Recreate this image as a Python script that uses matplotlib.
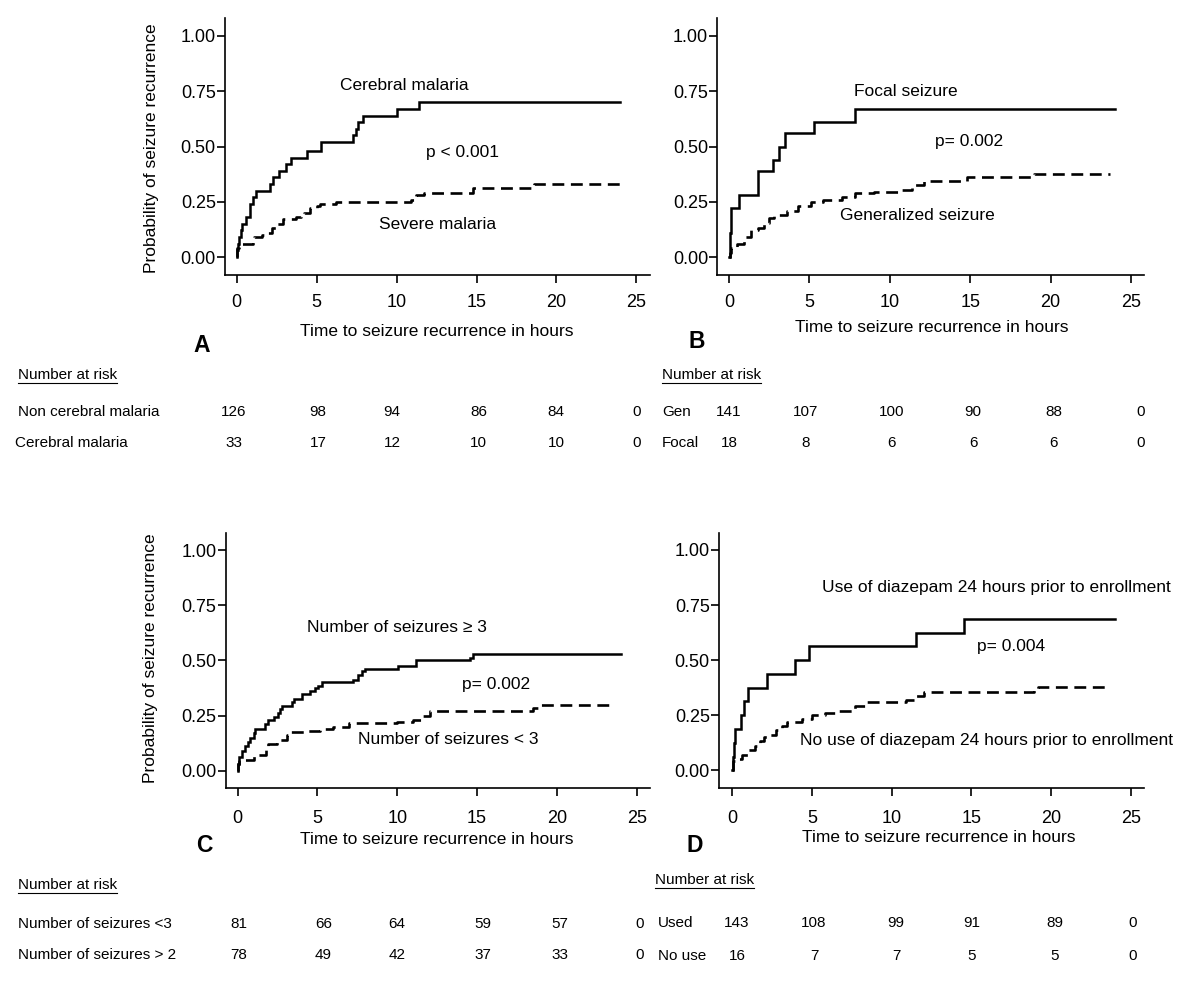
import matplotlib
matplotlib.use("Agg")
import matplotlib.pyplot as plt
from matplotlib.lines import Line2D

plt.rcParams['font.family'] = ['Liberation Sans', 'DejaVu Sans']

W, H = 1200, 985

# ---------------- data ----------------
# Panel A
a_solid_t = [0, 0.04, 0.1, 0.17, 0.25, 0.35, 0.6, 0.83, 0.85, 1.04, 1.2, 2.08, 2.25, 2.67,
             3.1, 3.4, 4.4, 5.3, 7.3, 7.45, 7.6, 7.9, 10.04, 11.4, 24.0]
a_solid_p = [0, 0.03, 0.06, 0.09, 0.12, 0.15, 0.18, 0.21, 0.24, 0.27, 0.30, 0.33, 0.36, 0.39,
             0.42, 0.45, 0.48, 0.52, 0.55, 0.58, 0.61, 0.64, 0.67, 0.70, 0.70]
a_dash_t = [0, 0.05, 0.12, 1.0, 1.1, 1.6, 1.9, 2.2, 2.5, 2.9, 3.7, 4.0, 4.2, 4.6, 5.0, 5.2,
            6.2, 10.9, 11.2, 11.7, 14.8, 18.6, 24.0]
a_dash_p = [0, 0.04, 0.06, 0.08, 0.09, 0.10, 0.11, 0.13, 0.15, 0.17, 0.18, 0.19, 0.20, 0.22,
            0.23, 0.24, 0.25, 0.26, 0.28, 0.29, 0.31, 0.33, 0.33]

# Panel B
b_solid_t = [0, 0.05, 0.08, 0.1, 0.12, 0.65, 1.83, 2.72, 3.1, 3.5, 5.3, 7.86, 24.0]
b_solid_p = [0, 0.06, 0.11, 0.17, 0.22, 0.28, 0.39, 0.44, 0.50, 0.56, 0.61, 0.67, 0.67]
b_dash_t = [0, 0.05, 0.1, 0.5, 0.94, 1.4, 1.8, 2.2, 2.5, 2.8, 3.6, 4.3, 5.1, 5.85, 7.0, 7.86,
            9.0, 10.5, 11.4, 12.1, 14.8, 19.0, 23.7]
b_dash_p = [0, 0.02, 0.04, 0.06, 0.09, 0.12, 0.13, 0.155, 0.175, 0.19, 0.21, 0.23, 0.25, 0.26,
            0.27, 0.29, 0.295, 0.305, 0.325, 0.345, 0.36, 0.375, 0.375]

# Panel C
c_solid_t = [0, 0.05, 0.1, 0.25, 0.46, 0.67, 0.8, 1.0, 1.1, 1.7, 1.9, 2.3, 2.55, 2.65, 2.8,
             3.4, 3.5, 4.0, 4.5, 4.85, 5.05, 5.26, 7.25, 7.55, 7.77, 8.0, 10.02, 11.17, 14.55,
             14.76, 24.0]
c_solid_p = [0, 0.03, 0.06, 0.09, 0.11, 0.13, 0.15, 0.17, 0.19, 0.21, 0.23, 0.245, 0.26, 0.28,
             0.295, 0.31, 0.325, 0.347, 0.362, 0.373, 0.385, 0.40, 0.41, 0.433, 0.45, 0.461,
             0.476, 0.50, 0.51, 0.527, 0.527]
c_dash_t = [0, 0.05, 0.1, 1.0, 1.8, 1.9, 2.45, 3.07, 3.17, 4.3, 5.15, 6.0, 7.0, 9.96, 11.0,
            11.5, 12.04, 18.5, 18.9, 23.6]
c_dash_p = [0, 0.03, 0.05, 0.07, 0.095, 0.12, 0.14, 0.16, 0.175, 0.18, 0.19, 0.20, 0.215, 0.22,
            0.23, 0.25, 0.27, 0.285, 0.297, 0.297]

# Panel D
d_solid_t = [0, 0.05, 0.1, 0.2, 0.52, 0.75, 0.97, 2.2, 3.94, 4.8, 11.55, 14.55, 24.0]
d_solid_p = [0, 0.06, 0.125, 0.1875, 0.25, 0.3125, 0.375, 0.4375, 0.5, 0.5625, 0.625, 0.6875,
             0.6875]
d_dash_t = [0, 0.05, 0.2, 0.63, 0.97, 1.4, 1.75, 2.0, 2.3, 2.77, 3.1, 3.45, 4.35, 5.0, 5.8,
            6.6, 7.7, 8.4, 10.9, 11.55, 12.0, 18.9, 19.2, 23.7]
d_dash_p = [0, 0.04, 0.05, 0.07, 0.09, 0.11, 0.13, 0.15, 0.16, 0.18, 0.20, 0.22, 0.23, 0.25,
            0.26, 0.27, 0.29, 0.31, 0.32, 0.335, 0.355, 0.37, 0.378, 0.378]

x_ticks = [0, 5, 10, 15, 20, 25]
y_ticks = [0.0, 0.25, 0.5, 0.75, 1.0]
y_ticklabels = ["0.00", "0.25", "0.50", "0.75", "1.00"]

# Number-at-risk tables
a_rows = ["Non cerebral malaria", "Cerebral malaria"]
a_risk = [[126, 98, 94, 86, 84, 0], [33, 17, 12, 10, 10, 0]]
b_rows = ["Gen", "Focal"]
b_risk = [[141, 107, 100, 90, 88, 0], [18, 8, 6, 6, 6, 0]]
c_rows = ["Number of seizures <3", "Number of seizures > 2"]
c_risk = [[81, 66, 64, 59, 57, 0], [78, 49, 42, 37, 33, 0]]
d_rows = ["Used", "No use"]
d_risk = [[143, 108, 99, 91, 89, 0], [16, 7, 7, 5, 5, 0]]

# ---------------- figure ----------------
fig = plt.figure(figsize=(W / 100, H / 100), dpi=100)


def P(x, y):
    return x / W, 1 - y / H


FS = 12.5
TKS = 13
TFS = 11


def make_axes(left, top, right, bottom, xlim, ylim, xpad):
    ax = fig.add_axes([left / W, 1 - bottom / H, (right - left) / W, (bottom - top) / H])
    ax.set_xlim(*xlim)
    ax.set_ylim(*ylim)
    for s in ("top", "right"):
        ax.spines[s].set_visible(False)
    for s in ("left", "bottom"):
        ax.spines[s].set_linewidth(1.2)
    ax.set_xticks(x_ticks)
    ax.set_yticks(y_ticks)
    ax.set_yticklabels(y_ticklabels)
    ax.tick_params(axis="both", direction="out", length=5.8, width=1.2, labelsize=TKS)
    ax.tick_params(axis="y", pad=0.8)
    ax.tick_params(axis="x", pad=xpad)
    ax.patch.set_visible(False)
    return ax


def curves(ax, st, sp, dt, dp):
    ax.step(st, sp, where="post", color="black", lw=1.8, solid_joinstyle="miter")
    ax.step(dt, dp, where="post", color="black", lw=1.9, linestyle=(0, (4.5, 2.5)))


def labels(ax, xl, yl=None):
    ax.set_xlabel("Time to seizure recurrence in hours", fontsize=FS)
    ax.xaxis.set_label_coords(*P(*xl), transform=fig.transFigure)
    ax.xaxis.label.set_va("center")
    if yl is not None:
        ax.set_ylabel("Probability of seizure recurrence", fontsize=FS)
        ax.yaxis.set_label_coords(*P(*yl), transform=fig.transFigure)
        ax.yaxis.label.set_va("center")


def txt(x, y, s, size=FS, **kw):
    fig.text(*P(x, y), s, ha="center", va="center", fontsize=size, **kw)


def table(hx, hy, label_x, rows_y, rows, vals, cols):
    t = fig.text(*P(hx, hy), "Number at risk", ha="left", va="center", fontsize=TFS)
    fig.canvas.draw()
    bb = t.get_window_extent()
    yline = 1 - (hy + 7.5) / H
    fig.add_artist(Line2D([bb.x0 / W, bb.x1 / W], [yline, yline], color="black", lw=0.8,
                          transform=fig.transFigure))
    for lx, ry, name, v in zip(label_x, rows_y, rows, vals):
        fig.text(*P(lx, ry), name, ha="left", va="center", fontsize=TFS)
        for cx, n in zip(cols, v):
            fig.text(*P(cx, ry), str(n), ha="center", va="center", fontsize=TFS)


# Panel A
axA = make_axes(225, 18, 650, 275, (-0.73, 25.85), (-0.0814, 1.0814), 8.2)
curves(axA, a_solid_t, a_solid_p, a_dash_t, a_dash_p)
labels(axA, (436.7, 331.7), (151.7, 148.3))
txt(404.3, 85, "Cerebral malaria")
txt(462.5, 152, "p < 0.001")
txt(438, 224, "Severe malaria")
txt(201.7, 345, "A", size=16.5, fontweight="bold")

# Panel B
axB = make_axes(717.2, 18, 1144.3, 275, (-0.73, 25.83), (-0.0814, 1.0814), 8.2)
curves(axB, b_solid_t, b_solid_p, b_dash_t, b_dash_p)
labels(axB, (931.6, 328))
txt(905.6, 91.7, "Focal seizure")
txt(969, 141.7, "p= 0.002")
txt(917.3, 215, "Generalized seizure")
txt(696.4, 341.7, "B", size=16.5, fontweight="bold")

# Panel C
axC = make_axes(225.7, 532.7, 650, 787.7, (-0.75, 25.83), (-0.077, 1.0788), 10.2)
curves(axC, c_solid_t, c_solid_p, c_dash_t, c_dash_p)
labels(axC, (436.7, 840), (150, 658.3))
txt(397, 628, "Number of seizures \u2265 3")
txt(495.8, 684, "p= 0.002")
txt(448.7, 740, "Number of seizures < 3")
txt(204, 845, "C", size=16.5, fontweight="bold")

# Panel D
axD = make_axes(719, 532.7, 1144.3, 787.7, (-0.83, 25.84), (-0.080, 1.0786), 10.2)
curves(axD, d_solid_t, d_solid_p, d_dash_t, d_dash_p)
labels(axD, (938.8, 838))
txt(996.5, 587.7, "Use of diazepam 24 hours prior to enrollment")
txt(1011, 646, "p= 0.004")
txt(986.9, 741, "No use of diazepam 24 hours prior to enrollment")
txt(694.6, 845, "D", size=16.5, fontweight="bold")

# Number-at-risk tables
table(17.5, 375, [17.5, 15.4], [412, 443], a_rows, a_risk,
      [233.5, 318, 392, 478.5, 556, 636.4])
table(662, 375, [662, 662], [412, 443], b_rows, b_risk,
      [729, 806, 892, 973, 1054, 1141])
table(17.5, 885, [17.5, 17.5], [924, 955], c_rows, c_risk,
      [238.8, 323.6, 396.7, 482.6, 560, 640])
table(655, 880, [658, 658], [923, 956], d_rows, d_risk,
      [737, 814, 896, 972, 1055, 1133])

fig.savefig("out.png", dpi=100, facecolor="white")
